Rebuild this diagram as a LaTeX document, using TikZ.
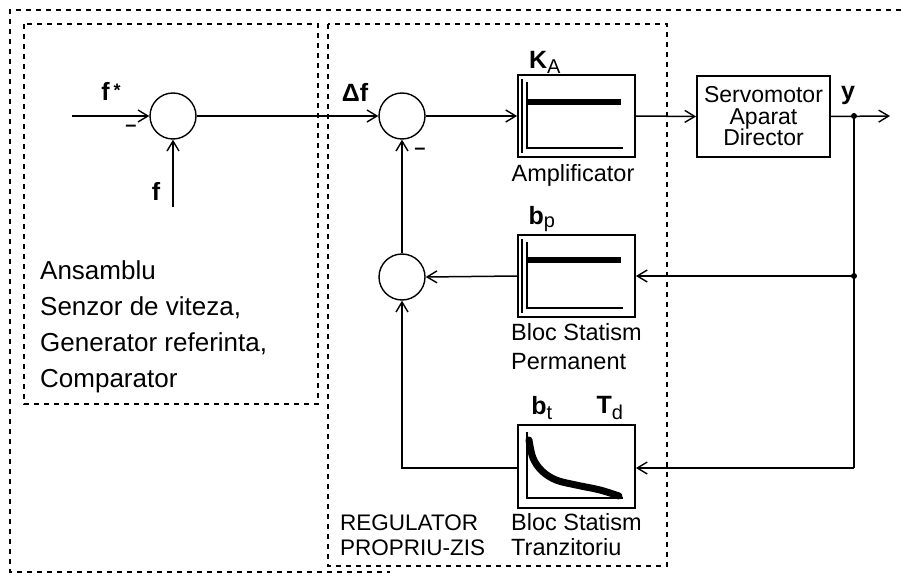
\documentclass[tikz,border=0pt]{standalone}
\usepackage{fontspec}
\setmainfont{Liberation Sans}
\usetikzlibrary{arrows.meta}

\begin{document}
\begin{tikzpicture}[x=1pt, y=-1pt,
        sumnode/.style={draw, circle, line width=1.4pt, minimum size=46pt, inner sep=0pt},
        block/.style={draw, line width=1.8pt, minimum width=117pt, inner sep=0pt},
        flow/.style={-{Straight Barb[length=10pt,width=12pt,line width=1.4pt]}, line width=1.5pt},
        line/.style={line width=1.5pt},
        dashframe/.style={line width=1.3pt, dash pattern=on 5pt off 5pt},
        sym/.style={font=\fontsize{25}{27}\selectfont\bfseries, inner sep=0pt},
        txt/.style={font=\fontsize{23.5}{24}\selectfont, inner sep=0pt},
        axes/.style={line width=1.2pt},
        trace/.style={line width=7pt, line cap=round}
    ]
        \useasboundingbox (0,0) rectangle (901,577);

        % frames
        \draw[dashframe] (901,10) -- (10,10) -- (10,572) -- (390,572);
        \draw[dashframe] (24,24) rectangle (318,404);
        \draw[dashframe] (328,24) rectangle (667,566);

        % summing junctions
        \node[sumnode] (sum-ref) at (173,116) {};
        \node[sumnode] (sum-err) at (402,116) {};
        \node[sumnode] (sum-fb) at (402,277) {};

        % blocks
        \node[block, minimum height=82pt] (ampl) at (576.5,116) {};
        \node[block, minimum width=133pt, minimum height=81pt, align=center,
              font=\fontsize{23}{21.5}\selectfont] (servo) at (763.5,116.5)
            {Servomotor\\Aparat\\Director};
        \node[block, minimum height=82pt] (perm) at (576.5,276) {};
        \node[block, minimum height=83pt] (tranz) at (576.5,466.5) {};

        % block characteristics
        \draw[axes] (522,79) -- (522,153);
        \draw[axes] (527,82) -- (527,148) -- (623,148);
        \draw[trace, line width=5.5pt, line cap=butt] (527,102) -- (621,102);
        \draw[axes] (522,239) -- (522,313);
        \draw[axes] (527,242) -- (527,308) -- (623,308);
        \draw[trace, line width=5.5pt, line cap=butt] (527,260) -- (621,260);
        \draw[axes] (527,432) -- (527,498) -- (623,498);
        \draw[trace] plot[smooth, tension=0.6] coordinates
            {(529,440) (533,458) (542,471) (556,480) (576,485) (600,490) (619,496)};

        % signals
        \coordinate (ref-in) at (72,116);
        \coordinate (meas-in) at (173,207);
        \coordinate (out) at (890,116);
        \coordinate (tap) at (854,116);
        \coordinate (tap-p) at (854,276);
        \coordinate (tap-t) at (854,468);

        \draw[flow] (ref-in) -- (sum-ref.west);
        \draw[flow] (meas-in) -- (sum-ref.south);
        \draw[flow] (sum-ref.east) -- (sum-err.west);
        \draw[flow] (sum-err.east) -- (ampl.west);
        \draw[flow] (ampl.east) -- (servo.west);
        \draw[flow] (servo.east) -- (out);
        \draw[line] (tap) -- (tap-t);
        \draw[flow] (tap-p) -- (perm.east);
        \draw[flow] (tap-t) -- (tranz.east |- tap-t);
        \draw[flow] (perm.west) -- (sum-fb.east);
        \draw[flow] (tranz.west |- tap-t) -| (sum-fb.south);
        \draw[flow] (sum-fb.north) -- (sum-err.south);
        \fill (tap) circle (3pt);
        \fill (tap-p) circle (3pt);

        % labels
        \node[sym] (ref-lbl) at (111,91) {f\,\raisebox{0.25ex}{\fontsize{18}{18}\selectfont*}};
        \node[sym] (meas-lbl) at (156,191) {f};
        \node[sym] (err-lbl) at (355,92) {Δf};
        \node[sym] (ka-lbl) at (545,62) {K\textsubscript{\normalfont\fontsize{20}{20}\selectfont A}};
        \node[sym] (y-lbl) at (848,95) {y};
        \node[sym] (bp-lbl) at (542,219) {b\textsubscript{\normalfont\fontsize{20}{20}\selectfont p}};
        \node[sym] (bt-lbl) at (542,408) {b\textsubscript{\normalfont\fontsize{20}{20}\selectfont t}};
        \node[sym] (td-lbl) at (610,408) {T\textsubscript{\normalfont\fontsize{20}{20}\selectfont d}};
        \node[font=\fontsize{20}{20}\selectfont\bfseries] (minus-ref) at (131,128) {–};
        \node[font=\fontsize{20}{20}\selectfont\bfseries] (minus-fb) at (420,151) {–};

        \node[txt] (ampl-lbl) at (573,175) {Amplificator};
        \node[txt, anchor=west] (perm-lbl1) at (511,332) {Bloc Statism};
        \node[txt, anchor=west] (perm-lbl2) at (511,362) {Permanent};
        \node[txt, anchor=west] (tranz-lbl1) at (511,522) {Bloc Statism};
        \node[txt, anchor=west] (tranz-lbl2) at (511,547) {Tranzitoriu};
        \node[txt, font=\fontsize{22.5}{24}\selectfont, anchor=west] (reg-lbl1) at (340,523) {REGULATOR};
        \node[txt, font=\fontsize{22.5}{24}\selectfont, anchor=west] (reg-lbl2) at (340,548) {PROPRIU-ZIS};

        \node[font=\fontsize{26}{36}\selectfont, align=left, anchor=north west, inner sep=0pt]
            (ans-lbl) at (40,260)
            {Ansamblu\\Senzor de viteza,\\Generator referinta,\\Comparator};
    \end{tikzpicture}
\end{document}
